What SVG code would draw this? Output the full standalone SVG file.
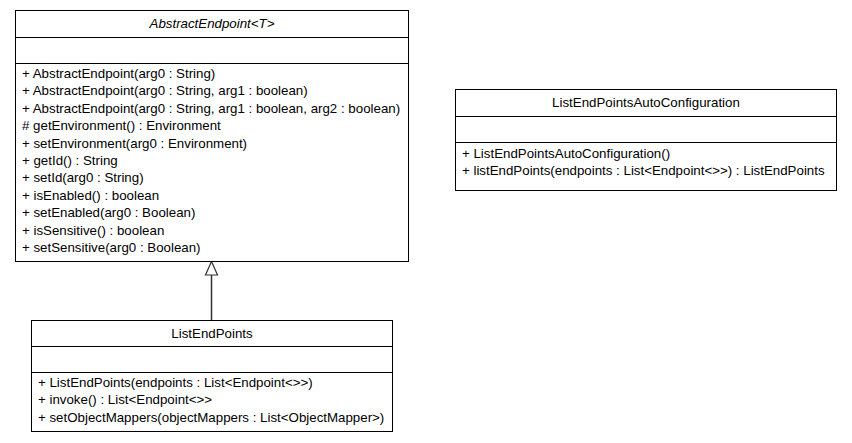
<svg xmlns="http://www.w3.org/2000/svg" width="852" height="443" viewBox="0 0 852 443">
<style>
.box{fill:#fff;stroke:#000;stroke-width:1}
.sep{stroke:#000;stroke-width:1}
text{font-family:"Liberation Sans",Arial,sans-serif;font-size:13.3px;fill:#000}
.t{text-anchor:middle}
.conn{stroke:#333;stroke-width:1.5;fill:none}
.head{fill:#fff;stroke:#333;stroke-width:1.2}
</style>
<rect width="852" height="443" fill="#fff"/>
<g id="connectors">
<line class="conn" x1="211.5" y1="320" x2="211.5" y2="275"/>
<polygon class="head" points="211.5,261.5 205.5,275 217.5,275"/>
</g>
<g id="AbstractEndpoint">
<rect class="box" x="15.5" y="10.5" width="393" height="251"/>
<line class="sep" x1="15.5" y1="37.5" x2="408.5" y2="37.5"/>
<line class="sep" x1="15.5" y1="63.5" x2="408.5" y2="63.5"/>
<text class="t" x="212" y="28" font-style="italic">AbstractEndpoint&lt;T&gt;</text>
<text x="22" y="78">+ AbstractEndpoint(arg0 : String)</text>
<text x="22" y="95.4">+ AbstractEndpoint(arg0 : String, arg1 : boolean)</text>
<text x="22" y="112.8">+ AbstractEndpoint(arg0 : String, arg1 : boolean, arg2 : boolean)</text>
<text x="22" y="130.2"># getEnvironment() : Environment</text>
<text x="22" y="147.6">+ setEnvironment(arg0 : Environment)</text>
<text x="22" y="165">+ getId() : String</text>
<text x="22" y="182.4">+ setId(arg0 : String)</text>
<text x="22" y="199.8">+ isEnabled() : boolean</text>
<text x="22" y="217.2">+ setEnabled(arg0 : Boolean)</text>
<text x="22" y="234.6">+ isSensitive() : boolean</text>
<text x="22" y="252">+ setSensitive(arg0 : Boolean)</text>
</g>
<g id="ListEndPoints">
<rect class="box" x="31.5" y="320.5" width="361" height="111"/>
<line class="sep" x1="31.5" y1="346.5" x2="392.5" y2="346.5"/>
<line class="sep" x1="31.5" y1="372.5" x2="392.5" y2="372.5"/>
<text class="t" x="212" y="338">ListEndPoints</text>
<text x="38" y="387">+ ListEndPoints(endpoints : List&lt;Endpoint&lt;&gt;&gt;)</text>
<text x="38" y="404.4">+ invoke() : List&lt;Endpoint&lt;&gt;&gt;</text>
<text x="38" y="421.8">+ setObjectMappers(objectMappers : List&lt;ObjectMapper&gt;)</text>
</g>
<g id="ListEndPointsAutoConfiguration">
<rect class="box" x="455.5" y="89.5" width="381" height="101"/>
<line class="sep" x1="455.5" y1="116.5" x2="836.5" y2="116.5"/>
<line class="sep" x1="455.5" y1="142.5" x2="836.5" y2="142.5"/>
<text class="t" x="646" y="107">ListEndPointsAutoConfiguration</text>
<text x="462" y="158">+ ListEndPointsAutoConfiguration()</text>
<text x="462" y="175.4">+ listEndPoints(endpoints : List&lt;Endpoint&lt;&gt;&gt;) : ListEndPoints</text>
</g>
</svg>
